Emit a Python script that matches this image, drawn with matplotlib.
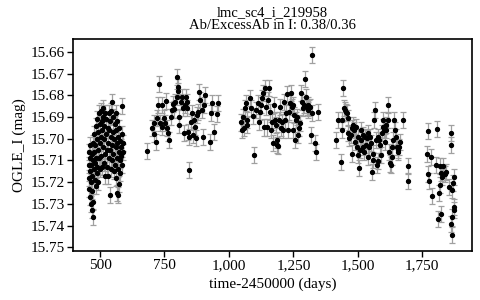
import numpy as np
import matplotlib.pyplot as plt
from matplotlib.ticker import FuncFormatter, FixedLocator

plt.rcParams['font.family'] = ['Liberation Serif', 'DejaVu Serif']

# ---------------------------------------------------------------------------
# light curve (HJD-2450000, I mag)

t1 = [456, 457, 458, 459, 460, 461, 462, 463, 464, 465, 466, 467, 468, 469, 470,
      471, 472, 473, 474, 475, 477, 478, 479, 480, 482, 483, 484, 485, 487, 488,
      489, 490, 492, 493, 494, 495, 497, 498, 499, 500, 502, 503, 505, 506, 507,
      509, 510, 511, 513, 514, 516, 517, 519, 520, 521, 523, 524, 526, 527, 529,
      531, 532, 533, 535, 536, 537, 538, 540, 541, 543, 544, 546, 547, 548, 549,
      551, 552, 553, 555, 557, 558, 560, 561, 562, 563, 564, 565, 566, 567, 568,
      569, 570, 572, 573, 575, 576, 577, 579, 580, 582, 584, 585, 587, 588, 590]
m1 = [15.706, 15.712, 15.718, 15.723, 15.709, 15.715, 15.727, 15.703, 15.720, 15.730,
      15.712, 15.707, 15.733, 15.717, 15.724, 15.736, 15.710, 15.702, 15.729, 15.714,
      15.698, 15.706, 15.719, 15.711, 15.703, 15.722, 15.694, 15.709, 15.716, 15.700,
      15.713, 15.691, 15.705, 15.720, 15.697, 15.709, 15.688, 15.702, 15.714, 15.693,
      15.687, 15.699, 15.708, 15.692, 15.713, 15.696, 15.686, 15.704, 15.690, 15.711,
      15.700, 15.694, 15.707, 15.688, 15.717, 15.698, 15.691, 15.705, 15.713, 15.695,
      15.702, 15.717, 15.688, 15.709, 15.696, 15.726, 15.692, 15.705, 15.714, 15.699,
      15.687, 15.710, 15.703, 15.683, 15.697, 15.707, 15.690, 15.715, 15.700, 15.693,
      15.712, 15.688, 15.704, 15.718, 15.696, 15.709, 15.725, 15.702, 15.692, 15.726,
      15.714, 15.699, 15.706, 15.721, 15.695, 15.710, 15.701, 15.716, 15.704, 15.708,
      15.698, 15.685, 15.712, 15.702, 15.706]

t2 = [683, 700, 709, 710, 716, 722, 729, 726, 733, 739, 741, 748, 752, 756, 758,
      765, 769, 774, 778, 784, 788, 791, 797, 800, 801, 803, 806, 807, 813, 817,
      823, 826, 829, 833, 836, 838, 842, 845, 846, 851, 855, 859, 864, 868, 872,
      875, 881, 885, 889, 894, 900, 903, 907, 926, 930, 936, 942, 952, 956]
m2 = [15.7055, 15.6952, 15.6926, 15.6978, 15.7017, 15.6903, 15.6748, 15.6845, 15.6929,
      15.6845, 15.6945, 15.6906, 15.6929, 15.6825, 15.6952, 15.6972, 15.7006, 15.6899,
      15.6868, 15.6841, 15.6865, 15.6829, 15.6806, 15.6714, 15.6778, 15.6760, 15.6899,
      15.6937, 15.6829, 15.6806, 15.6860, 15.6975, 15.6845, 15.6806, 15.6829, 15.6860,
      15.6968, 15.7145, 15.6991, 15.6922, 15.6883, 15.6983, 15.6914, 15.6945, 15.6998,
      15.6891, 15.6875, 15.6783, 15.6822, 15.6868, 15.6991, 15.6845, 15.6798, 15.7017,
      15.6883, 15.6837, 15.6968, 15.6886, 15.6837]

t3 = [1045, 1050, 1055, 1059, 1062, 1066, 1069, 1071, 1081, 1085, 1094, 1097, 1105,
      1111, 1116, 1120, 1124, 1129, 1133, 1136, 1140, 1143, 1146, 1150, 1156, 1159,
      1163, 1168, 1172, 1176, 1179, 1181, 1185, 1188, 1191, 1195, 1198, 1200, 1204,
      1208, 1213, 1217, 1221, 1226, 1230, 1233, 1236, 1240, 1243, 1247, 1249, 1253,
      1256, 1260, 1262, 1266, 1271, 1275, 1279, 1282, 1286, 1291, 1295, 1298, 1301,
      1305, 1308, 1311, 1314, 1318, 1321, 1324, 1333, 1337, 1344]
m3 = [15.6925, 15.6960, 15.6899, 15.6952, 15.6860, 15.6837, 15.6914, 15.6937, 15.6814,
      15.6860, 15.6895, 15.7075, 15.6868, 15.6834, 15.6922, 15.6875, 15.6845, 15.6814,
      15.6791, 15.6948, 15.6768, 15.6852, 15.6948, 15.6822, 15.6765, 15.6875, 15.6960,
      15.6922, 15.7021, 15.6845, 15.6914, 15.6937, 15.7006, 15.7029, 15.7034, 15.6914,
      15.6852, 15.6952, 15.6922, 15.6960, 15.6829, 15.6914, 15.6883, 15.6795, 15.6960,
      15.6875, 15.6837, 15.6788, 15.6852, 15.6845, 15.6960, 15.6891, 15.7006, 15.6914,
      15.6899, 15.6983, 15.6952, 15.6929, 15.6791, 15.6829, 15.6860, 15.6845, 15.6726,
      15.6806, 15.6852, 15.6868, 15.6845, 15.6860, 15.6852, 15.6983, 15.6614, 15.6883,
      15.7021, 15.7060, 15.6875]

t4 = [1415, 1424, 1434, 1437, 1439, 1443, 1447, 1450, 1453, 1456, 1460, 1462, 1466,
      1472, 1476, 1479, 1482, 1486, 1488, 1492, 1495, 1499, 1501, 1505, 1508, 1512,
      1514, 1518, 1521, 1524, 1527, 1531, 1534, 1538, 1540, 1544, 1547, 1551, 1553,
      1557, 1560, 1564, 1566, 1570, 1573, 1577, 1579, 1583, 1586, 1590, 1592, 1596,
      1598, 1602, 1605, 1609, 1611, 1615, 1618, 1621, 1624, 1627, 1631, 1634, 1637,
      1640, 1643, 1647, 1650, 1654, 1656, 1660, 1663, 1676, 1693, 1695]
m4 = [15.7006, 15.6914, 15.7106, 15.6960, 15.6914, 15.6768, 15.6860, 15.6868, 15.6875,
      15.6883, 15.6906, 15.6975, 15.6998, 15.6983, 15.6952, 15.7068, 15.6937, 15.6960,
      15.7014, 15.6945, 15.7037, 15.6991, 15.7075, 15.7134, 15.7052, 15.7006, 15.6960,
      15.7037, 15.6983, 15.7060, 15.6991, 15.7029, 15.6998, 15.6975, 15.7083, 15.7037,
      15.6991, 15.7021, 15.7152, 15.7098, 15.7068, 15.6914, 15.6868, 15.7006, 15.7121,
      15.7103, 15.6991, 15.7006, 15.7029, 15.7075, 15.6975, 15.6914, 15.6945, 15.6960,
      15.7014, 15.6937, 15.6960, 15.6845, 15.6914, 15.7060, 15.7114, 15.7121, 15.7083,
      15.7037, 15.7006, 15.6914, 15.6960, 15.6991, 15.7037, 15.7052, 15.7060, 15.7037,
      15.7014, 15.6914, 15.7195, 15.7124]

t5 = [1770, 1773, 1773, 1776, 1785, 1789, 1804, 1808, 1811, 1813, 1817, 1820, 1823,
      1823, 1827, 1830, 1836, 1842, 1855, 1860, 1860, 1863, 1865, 1866, 1866, 1868,
      1871, 1871, 1874]
m5 = [15.7072, 15.6965, 15.7164, 15.7194, 15.7083, 15.7265, 15.7122, 15.6955, 15.7372,
      15.7252, 15.7126, 15.7214, 15.7157, 15.7345, 15.7175, 15.7124, 15.7164, 15.7152,
      15.7222, 15.6975, 15.7029, 15.7391, 15.7363, 15.7237, 15.7445, 15.7206, 15.7175,
      15.7329, 15.7314]

mag_err = 0.0037

title = "lmc_sc4_i_219958\nAb/ExcessAb in I: 0.38/0.36"
xticks = [500, 750, 1000, 1250, 1500, 1750]
yticks = [15.66, 15.67, 15.68, 15.69, 15.70, 15.71, 15.72, 15.73, 15.74, 15.75]

# ---------------------------------------------------------------------------

t = np.concatenate([t1, t2, t3, t4, t5])
m = np.concatenate([m1, m2, m3, m4, m5])

fig = plt.figure(figsize=(4.8, 3.0), dpi=100)
ax = fig.add_axes([0.152, 0.163, 0.831, 0.707])

ax.errorbar(t, m, yerr=mag_err, fmt='o', color='black', markersize=2.8,
            ecolor='#a0a0a0', elinewidth=0.9, capsize=2.0, capthick=0.9)

ax.set_xlim(395, 1942)
ax.set_ylim(15.7518, 15.654)

ax.xaxis.set_major_locator(FixedLocator(xticks))
ax.yaxis.set_major_locator(FixedLocator(yticks))
ax.xaxis.set_major_formatter(FuncFormatter(lambda v, p: '{:,.0f}'.format(v)))
ax.yaxis.set_major_formatter(FuncFormatter(lambda v, p: '{:.2f}'.format(v)))
ax.tick_params(direction='out', length=4, width=1, labelsize=11, pad=2)

for s in ax.spines.values():
    s.set_linewidth(1.2)

ax.set_xlabel('time-2450000 (days)', fontsize=11, labelpad=4)
ax.set_ylabel('OGLE_I (mag)', fontsize=11, labelpad=3)
ax.set_title(title, fontsize=10.5, linespacing=1.05, pad=7)

fig.savefig('out.png', dpi=100)
